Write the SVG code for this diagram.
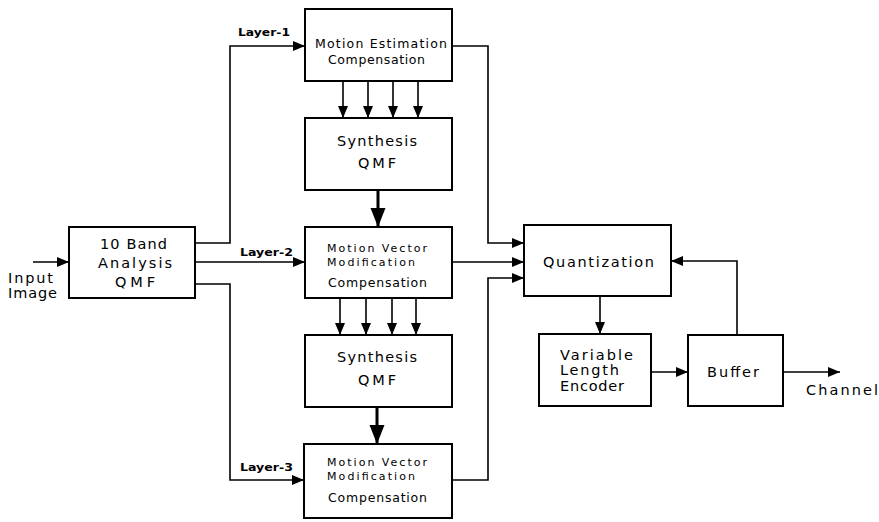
<svg xmlns="http://www.w3.org/2000/svg" width="879" height="522" viewBox="0 0 879 522">
<defs>
<marker id="ah" markerUnits="userSpaceOnUse" markerWidth="13" markerHeight="11" refX="12" refY="5" orient="auto"><path d="M0,0 L12,5 L0,10 z" fill="#000"/></marker>
<marker id="ahb" markerUnits="userSpaceOnUse" markerWidth="20" markerHeight="16" refX="19" refY="7.5" orient="auto"><path d="M0,0 L19,7.5 L0,15 z" fill="#000"/></marker>
<style>
.box{fill:#fff;stroke:#000;stroke-width:2}
.c{fill:none;stroke:#000;stroke-width:1.6;marker-end:url(#ah)}
.cb{fill:none;stroke:#000;stroke-width:3;marker-end:url(#ahb)}
text{font-family:"DejaVu Sans","Liberation Sans",sans-serif;fill:#000}
.t{font-size:14.5px}
.s{font-size:12.5px}
.v{font-size:11px}
.l{font-size:10.5px;font-weight:bold}
</style>
</defs>
<rect width="879" height="522" fill="#fff"/>
<g id="connectors">
<path class="c" d="M33,262 H69"/>
<path class="c" d="M195,243 H230 V46 H305"/>
<path class="c" d="M195,262 H305"/>
<path class="c" d="M195,284 H230 V480 H304"/>
<path class="c" d="M452,46 H488 V243 H524"/>
<path class="c" d="M452,262 H524"/>
<path class="c" d="M452,480 H488 V278 H524"/>
<path class="c" d="M343,81 V118"/>
<path class="c" d="M368,81 V118"/>
<path class="c" d="M393,81 V118"/>
<path class="c" d="M418,81 V118"/>
<path class="cb" d="M378,190 V227"/>
<path class="c" d="M340,298 V335"/>
<path class="c" d="M366,298 V335"/>
<path class="c" d="M392,298 V335"/>
<path class="c" d="M416,298 V335"/>
<path class="cb" d="M377,407 V444"/>
<path class="c" d="M600,296 V334"/>
<path class="c" d="M651,372 H688"/>
<path class="c" d="M737,335 V261 H671"/>
<path class="c" d="M783,372 H840"/>
</g>
<g id="labels">
<text class="l" x="238" y="36" textLength="52" lengthAdjust="spacingAndGlyphs">Layer-1</text>
<text class="l" x="240" y="256" textLength="53" lengthAdjust="spacingAndGlyphs">Layer-2</text>
<text class="l" x="240" y="471" textLength="53" lengthAdjust="spacingAndGlyphs">Layer-3</text>
<text class="t" x="8" y="283" textLength="45">Input</text>
<text class="t" x="8" y="298" textLength="49">Image</text>
<text class="t" x="806" y="395" textLength="72">Channel</text>
</g>
<g id="analysis">
<rect class="box" x="69" y="227" width="126" height="71"/>
<text class="t" x="100" y="249" textLength="67">10 Band</text>
<text class="t" x="98" y="268" textLength="74">Analysis</text>
<text class="t" x="115" y="287" textLength="40">QMF</text>
</g>
<g id="me">
<rect class="box" x="305" y="9" width="147" height="72"/>
<text class="s" x="315" y="48" textLength="132">Motion Estimation</text>
<text class="s" x="328" y="64" textLength="97">Compensation</text>
</g>
<g id="synth1">
<rect class="box" x="305" y="118" width="147" height="72"/>
<text class="t" x="337" y="146" textLength="80">Synthesis</text>
<text class="t" x="358" y="168" textLength="38">QMF</text>
</g>
<g id="mv1">
<rect class="box" x="305" y="227" width="147" height="71"/>
<text class="v" x="327" y="252" textLength="100">Motion Vector</text>
<text class="v" x="327" y="266" textLength="88">Modification</text>
<text class="s" x="328" y="287" textLength="99">Compensation</text>
</g>
<g id="synth2">
<rect class="box" x="305" y="335" width="147" height="72"/>
<text class="t" x="337" y="362" textLength="80">Synthesis</text>
<text class="t" x="358" y="385" textLength="38">QMF</text>
</g>
<g id="mv2">
<rect class="box" x="304" y="444" width="148" height="74"/>
<text class="v" x="327" y="466" textLength="100">Motion Vector</text>
<text class="v" x="327" y="480" textLength="88">Modification</text>
<text class="s" x="328" y="502" textLength="99">Compensation</text>
</g>
<g id="quant">
<rect class="box" x="524" y="225" width="147" height="71"/>
<text class="t" x="543" y="267" textLength="111">Quantization</text>
</g>
<g id="vle">
<rect class="box" x="539" y="334" width="112" height="72"/>
<text class="t" x="560" y="360" textLength="73">Variable</text>
<text class="t" x="560" y="375" textLength="59">Length</text>
<text class="t" x="560" y="391" textLength="64">Encoder</text>
</g>
<g id="buffer">
<rect class="box" x="688" y="335" width="95" height="71"/>
<text class="t" x="707" y="377" textLength="52">Buffer</text>
</g>
</svg>
